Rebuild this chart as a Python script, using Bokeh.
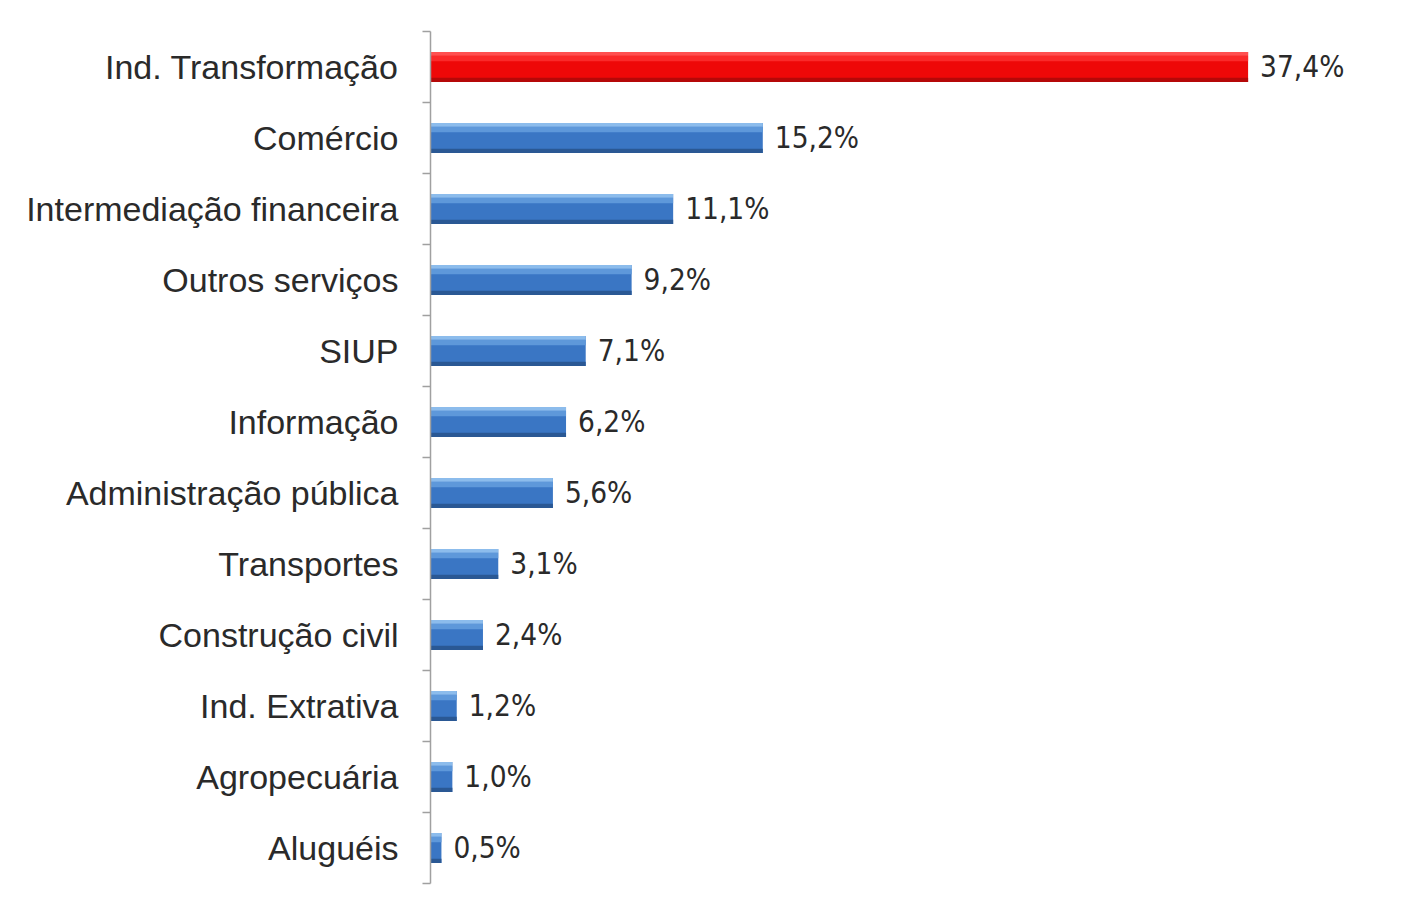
from bokeh.plotting import figure
from bokeh.models import ColumnDataSource, Range1d, FixedTicker, LinearAxis
from bokeh.core.properties import value
from bokeh.embed import file_html
from bokeh.resources import INLINE

categories = ["Ind. Transformação", "Comércio", "Intermediação financeira", "Outros serviços",
              "SIUP", "Informação", "Administração pública", "Transportes",
              "Construção civil", "Ind. Extrativa", "Agropecuária", "Aluguéis"]
shares = [37.4, 15.2, 11.1, 9.2, 7.1, 6.2, 5.6, 3.1, 2.4, 1.2, 1.0, 0.5]

n = len(categories)
pos = list(range(n))
labels = [f"{v:.1f}".replace(".", ",") + "%" for v in shares]
main_col = ["#ee0808"] + ["#3a76c4"] * (n - 1)
hi_col = ["#ff5050"] + ["#8cbcec"] * (n - 1)
top_col = ["#fa2a2a"] + ["#5e98da"] * (n - 1)
bot_col = ["#b50808"] + ["#2a5894"] * (n - 1)

src = ColumnDataSource(dict(y=pos, v=shares, lab=labels, c=main_col, h=hi_col, t=top_col, b=bot_col,
                            yhi=[p - 0.185 for p in pos], ytop=[p - 0.12 for p in pos],
                            ybot=[p + 0.18 for p in pos]))

p = figure(width=1411, height=891, output_backend="svg", toolbar_location=None,
           x_range=Range1d(0, 44.6), y_range=Range1d(n - 0.5, -0.5),
           min_border_left=430, min_border_right=6, min_border_top=31, min_border_bottom=8,
           x_axis_location=None, y_axis_location=None)
p.outline_line_color = None
p.xgrid.visible = False
p.ygrid.visible = False
p.background_fill_color = "white"
p.border_fill_color = "white"

ax = LinearAxis(ticker=FixedTicker(ticks=pos, minor_ticks=[k - 0.5 for k in range(n + 1)]),
                major_label_overrides={i: c for i, c in enumerate(categories)})
ax.axis_line_color = "#a0a0a0"
ax.axis_line_width = 1.5
ax.major_tick_line_color = None
ax.major_tick_out = 0
ax.major_tick_in = 0
ax.minor_tick_line_color = "#a0a0a0"
ax.minor_tick_line_width = 1.5
ax.minor_tick_out = 8
ax.minor_tick_in = 0
ax.major_label_standoff = 24
ax.major_label_text_font = "Liberation Sans"
ax.major_label_text_font_size = "34px"
ax.major_label_text_color = "#2a2a2a"
p.add_layout(ax, "left")

# main bar
p.hbar(y="y", right="v", left=0, height=0.42, source=src, fill_color="c", line_color=None)
# upper lighter band
p.hbar(y="ytop", right="v", left=0, height=0.08, source=src, fill_color="t", line_color=None)
# top highlight
p.hbar(y="yhi", right="v", left=0, height=0.05, source=src, fill_color="h", line_color=None)
# bottom shade
p.hbar(y="ybot", right="v", left=0, height=0.06, source=src, fill_color="b", line_color=None)

p.text(x="v", y="y", text="lab", source=src, x_offset=12, text_baseline="middle",
       text_font=value("DejaVu Sans Condensed"), text_font_size="29.5px", text_color="#2a2a2a")

open("out.html", "w").write(file_html(p, INLINE))
